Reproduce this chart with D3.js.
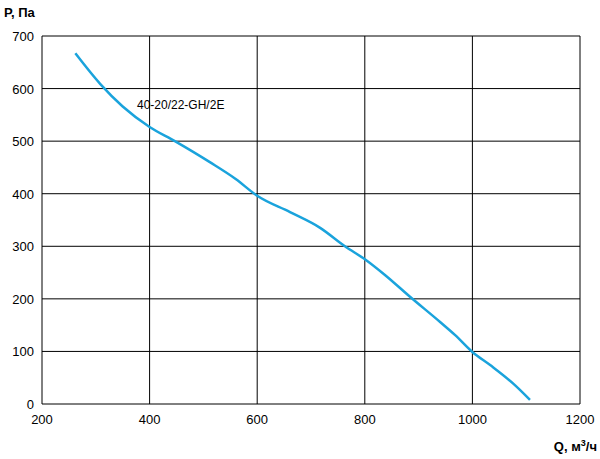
<!DOCTYPE html>
<html><head><meta charset="utf-8">
<script src="https://cdn.jsdelivr.net/npm/d3@7"></script>
<style>body{margin:0;background:#fff}text{font-family:Arial,"Liberation Sans",sans-serif}</style>
</head><body><svg id="c" width="600" height="459"></svg>
<script>
const flowQ = [262,308,350,400,447,512,560,600,661,717,763,802,838,884,940,968,1000,1033,1079,1107];
const pressureP = [667,609,566,527,500,460,428,396,365,335,300,274,245,204,156,131,99,74,36,8];
const xTicks = [200,400,600,800,1000,1200];
const yTicks = [0,100,200,300,400,500,600,700];
const seriesLabel = "40-20/22-GH/2E";

const svg = d3.select("#c");
const x = d3.scaleLinear().domain([200,1200]).range([42,580]);
const y = d3.scaleLinear().domain([0,700]).range([404,36]);
const g = svg.append("g");
g.selectAll(".vx").data(xTicks).enter().append("line")
 .attr("x1",d=>x(d)).attr("x2",d=>x(d)).attr("y1",y(0)).attr("y2",y(700))
 .attr("stroke","#000").attr("stroke-width",1);
g.selectAll(".hy").data(yTicks).enter().append("line")
 .attr("y1",d=>y(d)).attr("y2",d=>y(d)).attr("x1",x(200)).attr("x2",x(1200))
 .attr("stroke","#000").attr("stroke-width",1);
g.selectAll(".xl").data(xTicks).enter().append("text")
 .attr("x",d=>x(d)).attr("y",y(0)+20).attr("text-anchor","middle").attr("font-size",13).text(d=>d);
g.selectAll(".yl").data(yTicks).enter().append("text")
 .attr("x",x(200)-8).attr("y",d=>y(d)+5).attr("text-anchor","end").attr("font-size",13).text(d=>d);
const pts = flowQ.map((q,i)=>[q,pressureP[i]]);
g.append("path").datum(pts).attr("fill","none").attr("stroke","#1aa3dc").attr("stroke-width",2.5)
 .attr("d",d3.line().x(d=>x(d[0])).y(d=>y(d[1])).curve(d3.curveMonotoneX));
g.append("text").attr("x",137).attr("y",109).attr("font-size",12).text(seriesLabel);
g.append("text").attr("x",4).attr("y",17).attr("font-size",13).attr("font-weight","bold").text("P, Па");
const t = g.append("text").attr("x",597).attr("y",451).attr("text-anchor","end").attr("font-size",13).attr("font-weight","bold");
t.append("tspan").text("Q, м");
t.append("tspan").attr("font-size",9).attr("dy",-5).text("3");
t.append("tspan").attr("dy",5).text("/ч");
</script></body></html>
